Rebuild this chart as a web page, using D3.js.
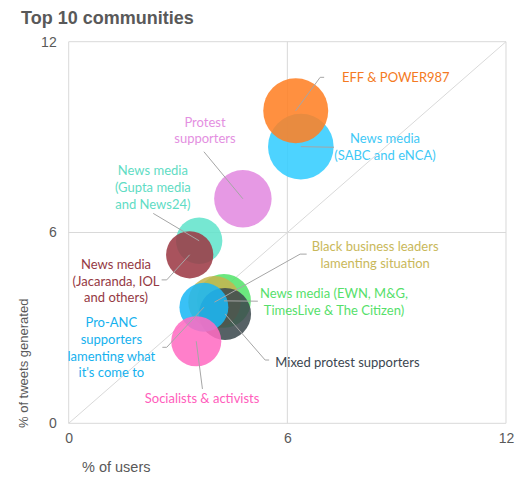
<!DOCTYPE html>
<html>
<head>
<meta charset="utf-8">
<script src="https://cdn.jsdelivr.net/npm/d3@7"></script>
<style>
body{margin:0;background:#fff;}
svg{display:block;}
</style>
</head>
<body>
<svg></svg>
<script>
// communities, in drawing order (later ones sit on top)
var communities = ["News media (SABC and eNCA)","EFF & POWER987","Protest supporters",
    "News media (Gupta media and News24)","News media (Jacaranda, IOL and others)",
    "News media (EWN, M&G, TimesLive & The Citizen)","Black business leaders lamenting situation",
    "Mixed protest supporters","Pro-ANC supporters lamenting what it's come to","Socialists & activists"]
var pctUsers  = [6.37,6.23,4.78,3.58,3.32,4.26,4.00,4.29,3.71,3.50]
var pctTweets = [8.70,9.83,7.06,5.74,5.30,3.85,3.81,3.44,3.65,2.58]
var bubbleSize = [10.8,10.6,8.3,5.4,5.6,7.3,6.9,6.8,6.0,6.3]
var labelLines = [["News media","(SABC and eNCA)"],["EFF & POWER987"],["Protest","supporters"],
    ["News media","(Gupta media","and News24)"],["News media","(Jacaranda, IOL","and others)"],
    ["News media (EWN, M&G,","TimesLive & The Citizen)"],["Black business leaders","lamenting situation"],
    ["Mixed protest supporters"],["Pro-ANC","supporters","lamenting what","it's come to"],["Socialists & activists"]]
var xTicks = [0,6,12]
var yTicks = [0,6,12]

// styles
var bubbleColors = ["#33ccff","#ff8024","#e28ae0","#62e3cb","#9c3a45","#55e46c","#c4b650","#3d4a4e","#1cb8f5","#ff6cc2"]
var textColors   = ["#3fc9f6","#f47a22","#e48fe1","#5fdcc4","#953943","#56df6b","#c9b85a","#3b4650","#15b1ee","#ff5dbc"]

// label placement in chart units: [x, y of first line, anchor], and leader line bends
var labelPos = [[8.68,8.96,"middle"],[7.50,10.88,"start"],[3.74,9.47,"middle"],
    [2.31,7.94,"middle"],[1.30,5.00,"middle"],[7.28,4.07,"middle"],
    [8.41,5.55,"middle"],[5.67,1.90,"start"],[1.17,3.16,"middle"],[3.66,0.78,"middle"]]
var leaderPts = [[[7.28,8.68]],[[7.01,10.88],[6.90,10.88]],[[3.71,8.54]],
    [[2.32,6.60]],[[2.55,4.51],[2.69,4.51]],[[5.19,3.84]],
    [[6.53,5.32],[6.35,5.32]],[[5.50,1.99],[5.39,1.99]],[[2.57,2.39],[2.69,2.39]],[[3.67,1.08]]]

var screen = {width:532,height:485}
var margins = {top:41.7,right:26,bottom:61.7,left:68.7}
var width = screen.width - margins.left - margins.right
var height = screen.height - margins.top - margins.bottom

var svg = d3.select("svg")
    .attr("width",screen.width)
    .attr("height",screen.height)

svg.append("text")
    .attr("x",21)
    .attr("y",24)
    .attr("font-family","Liberation Sans, Arial, sans-serif")
    .attr("font-weight","bold")
    .attr("font-size","18px")
    .attr("fill","#595959")
    .text("Top 10 communities")

var graph = svg.append("g")
    .attr("id","graph")
    .attr("transform","translate("+margins.left+","+margins.top+")")

var xScale = d3.scaleLinear().domain([0,12]).range([0,width])
var yScale = d3.scaleLinear().domain([0,12]).range([height,0])
var rScale = d3.scaleSqrt().domain([0,d3.max(bubbleSize)]).range([0,32.8])

//grid + frame
graph.selectAll(".vgrid")
    .data(xTicks)
    .enter()
    .append("line")
    .attr("x1",function(d){return xScale(d)})
    .attr("x2",function(d){return xScale(d)})
    .attr("y1",0)
    .attr("y2",height)
    .attr("stroke","#d9d9d9")
    .attr("stroke-width",1)
graph.selectAll(".hgrid")
    .data(yTicks)
    .enter()
    .append("line")
    .attr("y1",function(d){return yScale(d)})
    .attr("y2",function(d){return yScale(d)})
    .attr("x1",0)
    .attr("x2",width)
    .attr("stroke","#d9d9d9")
    .attr("stroke-width",1)

//diagonal (equal share line)
graph.append("line")
    .attr("x1",xScale(0)).attr("y1",yScale(0))
    .attr("x2",xScale(12)).attr("y2",yScale(12))
    .attr("stroke","#d9d9d9")
    .attr("stroke-width",1)

//axes, labels only
var xAxis = d3.axisBottom(xScale).tickValues(xTicks).tickSize(0).tickPadding(10)
var yAxis = d3.axisLeft(yScale).tickValues(yTicks).tickSize(0).tickPadding(12)
graph.append("g")
    .attr("transform","translate(0,"+height+")")
    .call(xAxis)
graph.append("g").call(yAxis)
svg.selectAll(".domain").remove()
svg.selectAll(".tick text")
    .attr("font-family","Liberation Sans, Arial, sans-serif")
    .attr("font-size","14px")
    .attr("fill","#595959")

svg.append("text")
    .attr("x",82)
    .attr("y",471.5)
    .attr("font-family","Liberation Sans, Arial, sans-serif")
    .attr("font-size","14.5px")
    .attr("fill","#595959")
    .text("% of users")
svg.append("text")
    .attr("transform","translate(27.5,428) rotate(-90)")
    .attr("font-family","Liberation Sans, Arial, sans-serif")
    .attr("font-size","13px")
    .attr("fill","#595959")
    .text("% of tweets generated")

//bubbles
graph.selectAll("circle")
    .data(communities)
    .enter()
    .append("circle")
    .attr("cx",function(d,i){return xScale(pctUsers[i])})
    .attr("cy",function(d,i){return yScale(pctTweets[i])})
    .attr("r",function(d,i){return rScale(bubbleSize[i])})
    .attr("fill",function(d,i){return bubbleColors[i]})
    .attr("fill-opacity",0.87)

//leader lines
var line = d3.line()
    .x(function(p){return xScale(p[0])})
    .y(function(p){return yScale(p[1])})
graph.selectAll(".leader")
    .data(communities)
    .enter()
    .append("path")
    .attr("class","leader")
    .attr("d",function(d,i){return line(leaderPts[i].concat([[pctUsers[i],pctTweets[i]]]))})
    .attr("fill","none")
    .attr("stroke","#a6a6a6")
    .attr("stroke-width",1)

//data labels
var labels = graph.selectAll(".lbl")
    .data(communities)
    .enter()
    .append("text")
    .attr("class","lbl")
    .attr("font-family","Lato, sans-serif")
    .attr("font-size","13px")
    .attr("fill",function(d,i){return textColors[i]})
    .attr("text-anchor",function(d,i){return labelPos[i][2]})
labels.each(function(d,i)
{
    var t = d3.select(this)
    labelLines[i].forEach(function(s,j)
    {
        t.append("tspan")
        .attr("x",xScale(labelPos[i][0]))
        .attr("y",yScale(labelPos[i][1])+j*16.7)
        .attr("dy","0.35em")
        .text(s)
    })
})
</script>
</body>
</html>
